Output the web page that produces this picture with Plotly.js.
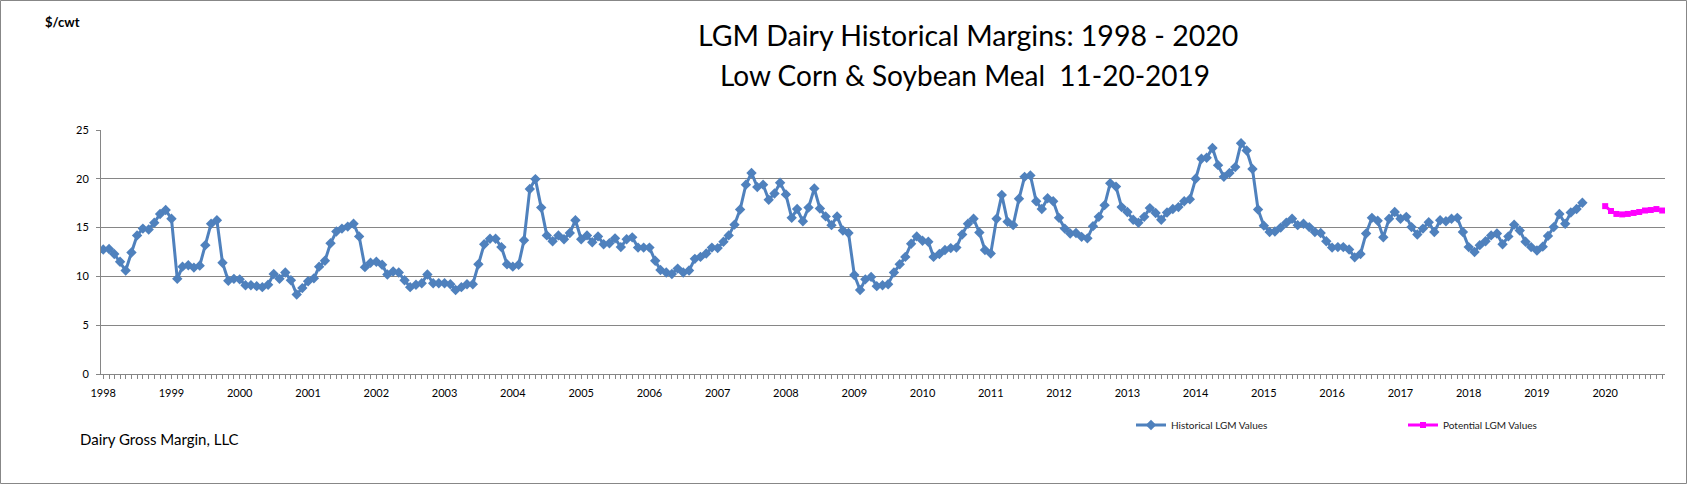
<!DOCTYPE html>
<html>
<head>
<meta charset="utf-8">
<script src="https://cdn.plot.ly/plotly-3.0.1.min.js"></script>
<style>
html,body{margin:0;padding:0;background:#fff;}
#chart{width:1687px;height:484px;}
</style>
</head>
<body>
<div id="chart"></div>
<script>
// ---- Data ----
const titleLine1 = 'LGM Dairy Historical Margins: 1998 - 2020';
const titleLine2 = 'Low Corn &amp; Soybean Meal  11-20-2019';
const unitLabel = '$/cwt';
const sourceLabel = 'Dairy Gross Margin, LLC';
const seriesNames = ['Historical LGM Values', 'Potential LGM Values'];

const historicalStart = '1998-01';   // first month of historical series
const potentialStart = '2020-01';    // first month of potential series

// monthly values, Jan 1998 - Sep 2019 ($/cwt)
const historical = [
  12.75,12.8,12.3,11.5,10.6,12.45,14.2,14.9,14.8,15.5,16.4,16.8,
  15.9,9.75,11.0,11.15,10.9,11.1,13.2,15.4,15.75,11.4,9.55,9.75,
  9.7,9.1,9.1,9.0,8.9,9.15,10.25,9.75,10.4,9.6,8.15,8.8,
  9.5,9.8,11.0,11.6,13.4,14.6,14.9,15.1,15.4,14.1,10.95,11.4,
  11.5,11.2,10.2,10.5,10.4,9.6,8.9,9.15,9.3,10.2,9.3,9.3,
  9.3,9.2,8.6,8.9,9.2,9.2,11.25,13.3,13.85,13.85,13.0,11.25,
  11.0,11.2,13.7,18.95,19.97,17.05,14.2,13.6,14.2,13.8,14.45,15.75,
  13.8,14.2,13.5,14.1,13.3,13.4,13.9,13.0,13.8,14.0,12.95,12.95,
  12.95,11.6,10.65,10.4,10.25,10.8,10.4,10.6,11.8,12.0,12.35,12.95,
  12.9,13.55,14.2,15.3,16.85,19.4,20.6,19.15,19.4,17.85,18.5,19.6,
  18.4,16.0,16.9,15.65,17.05,19.0,16.95,16.15,15.25,16.15,14.7,14.45,
  10.15,8.6,9.7,9.95,9.0,9.1,9.2,10.4,11.25,12.0,13.35,14.1,
  13.65,13.55,12.0,12.3,12.7,12.9,12.95,14.3,15.4,15.9,14.5,12.7,
  12.35,15.9,18.35,15.6,15.25,17.95,20.2,20.35,17.7,16.9,18.0,17.7,
  16.0,14.9,14.4,14.45,14.05,13.9,15.15,16.1,17.3,19.55,19.2,17.1,
  16.6,15.8,15.5,16.1,17.0,16.5,15.8,16.55,16.9,17.1,17.7,17.9,
  20.0,22.05,22.15,23.15,21.4,20.2,20.6,21.2,23.65,22.9,21.0,16.85,
  15.2,14.55,14.6,15.0,15.5,15.9,15.25,15.4,15.05,14.55,14.45,13.6,
  12.95,13.0,13.0,12.75,11.95,12.3,14.4,16.0,15.7,14.0,15.9,16.6,
  15.9,16.1,15.05,14.3,14.9,15.55,14.55,15.75,15.65,15.9,16.0,14.55,
  13.0,12.5,13.2,13.6,14.2,14.4,13.3,14.1,15.3,14.7,13.55,13.0,
  12.65,13.05,14.15,15.05,16.4,15.4,16.55,16.9,17.55
];

// monthly potential values from Jan 2020 ($/cwt)
const potential = [17.2,16.7,16.4,16.35,16.4,16.5,16.6,16.75,16.8,16.9,16.75];

// ---- build month dates ----
function monthDates(start, n) {
  const [y0, m0] = start.split('-').map(Number);
  const out = [];
  for (let i = 0; i < n; i++) {
    const t = (m0 - 1) + i;
    const y = y0 + Math.floor(t / 12);
    const m = (t % 12) + 1;
    out.push(y + '-' + String(m).padStart(2, '0') + '-01');
  }
  return out;
}
const histX = monthDates(historicalStart, historical.length);
const potX = monthDates(potentialStart, potential.length);

const FONT = 'Lato, "Open Sans", sans-serif';
const GRID = '#868686';
const W = 1564, L = 101, B = 374, H = 244;
const px = v => (v - L) / W;
const py = v => (B - v) / H;

const traces = [
  {
    x: histX, y: historical, name: seriesNames[0], type: 'scatter', mode: 'lines+markers',
    line: {color: '#4F81BD', width: 3},
    marker: {symbol: 'diamond', size: 8, color: '#4F81BD'}
  },
  {
    x: potX, y: potential, name: seriesNames[1], type: 'scatter', mode: 'lines+markers',
    line: {color: '#FF00FF', width: 3},
    marker: {symbol: 'square', size: 6, color: '#FF00FF'}
  }
];

const layout = {
  width: 1687, height: 484,
  margin: {l: 101, r: 22, t: 130, b: 110, autoexpand: false},
  paper_bgcolor: '#fff', plot_bgcolor: '#fff',
  font: {family: FONT, size: 11, color: '#000'},
  showlegend: true,
  legend: {
    orientation: 'h', x: px(1131), xanchor: 'left', y: py(425), yanchor: 'middle',
    font: {family: FONT, size: 10, color: '#222'},
    entrywidth: 227, entrywidthmode: 'pixels',
    bgcolor: 'rgba(0,0,0,0)', itemwidth: 30
  },
  xaxis: {
    type: 'date',
    range: ['1997-12-20', '2020-11-16'],
    tick0: '1998-01-01', dtick: 'M12', tickformat: '%Y',
    ticks: 'outside', ticklen: 4, tickcolor: GRID,
    ticklabelstandoff: 5,
    showgrid: false, zeroline: false,
    showline: true, linecolor: GRID, linewidth: 1,
    tickfont: {family: FONT, size: 11, color: '#000'},
    minor: {dtick: 'M1', ticks: 'outside', ticklen: 4, tickcolor: GRID, showgrid: false},
    fixedrange: true
  },
  yaxis: {
    range: [0, 25], dtick: 5, tick0: 0,
    showgrid: true, gridcolor: GRID, gridwidth: 1,
    zeroline: false, showline: true, linecolor: GRID, linewidth: 1,
    ticks: 'outside', ticklen: 4, tickcolor: GRID,
    ticklabelstandoff: 5,
    tickfont: {family: FONT, size: 11, color: '#000'},
    fixedrange: true
  },
  annotations: [
    {text: titleLine1, xref: 'paper', yref: 'paper',
     x: px(968), y: py(35), xanchor: 'center', yanchor: 'middle',
     showarrow: false, font: {family: FONT, size: 28.5, color: '#000'}},
    {text: titleLine2, xref: 'paper', yref: 'paper',
     x: px(965), y: py(75), xanchor: 'center', yanchor: 'middle',
     showarrow: false, font: {family: FONT, size: 28, color: '#000'}},
    {text: '<b>' + unitLabel + '</b>', xref: 'paper', yref: 'paper',
     x: px(43), y: py(22), xanchor: 'left', yanchor: 'middle',
     showarrow: false, font: {family: FONT, size: 13, color: '#000'}},
    {text: sourceLabel, xref: 'paper', yref: 'paper',
     x: px(78), y: py(439), xanchor: 'left', yanchor: 'middle',
     showarrow: false, font: {family: FONT, size: 15, color: '#000'}}
  ],
  shapes: [
    {type: 'rect', xref: 'paper', yref: 'paper',
     x0: px(0.5), x1: px(1686.5), y0: py(483.5), y1: py(0.5),
     line: {color: '#878787', width: 1}, fillcolor: 'rgba(0,0,0,0)', layer: 'below'}
  ]
};

Plotly.newPlot('chart', traces, layout, {displayModeBar: false, staticPlot: true});
</script>
</body>
</html>
